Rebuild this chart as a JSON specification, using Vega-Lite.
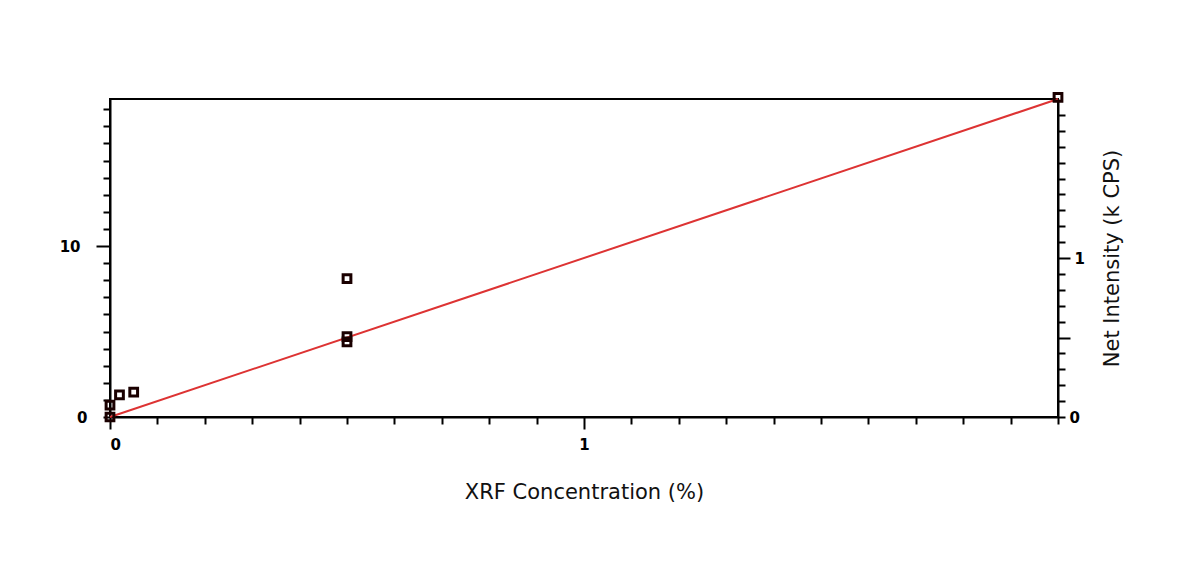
{
  "$schema": "https://vega.github.io/schema/vega-lite/v6.json",
  "width": 948,
  "height": 318,
  "autosize": {"type": "none"},
  "padding": {"left": 110, "top": 99, "right": 138, "bottom": 158},
  "background": "white",
  "config": {
    "view": {"stroke": "black", "strokeWidth": 2},
    "font": "DejaVu Sans",
    "axis": {
      "domainColor": "black",
      "domainWidth": 2,
      "tickColor": "black",
      "tickWidth": 2,
      "labelFont": "DejaVu Sans",
      "labelFontWeight": "bold",
      "labelFontSize": 15,
      "labelColor": "black",
      "titleFont": "DejaVu Sans",
      "titleFontWeight": "normal",
      "titleFontSize": 21,
      "titleColor": "#111111",
      "grid": false
    }
  },
  "datasets": {
    "points": [
      {"conc": 0.0, "intensity": 0.0},
      {"conc": 0.0, "intensity": 0.7},
      {"conc": 0.02, "intensity": 1.3},
      {"conc": 0.05, "intensity": 1.45},
      {"conc": 0.5, "intensity": 8.1},
      {"conc": 0.5, "intensity": 4.7},
      {"conc": 0.5, "intensity": 4.4},
      {"conc": 2.0, "intensity": 18.7}
    ],
    "fit": [
      {"conc": 0.0, "fit": 0.0},
      {"conc": 2.0, "fit": 18.6}
    ],
    "right": [
      {"conc": 0.0, "kcps": 0.0},
      {"conc": 2.0, "kcps": 2.0}
    ]
  },
  "layer": [
    {
      "data": {"name": "fit"},
      "mark": {"type": "line", "color": "#dd3333", "strokeWidth": 2, "clip": false},
      "encoding": {
        "x": {
          "field": "conc", "type": "quantitative",
          "scale": {"domain": [0, 2], "nice": false},
          "title": "XRF Concentration (%)",
          "axis": {
            "values": [0, 0.1, 0.2, 0.3, 0.4, 0.5, 0.6, 0.7, 0.8, 0.9, 1, 1.1, 1.2, 1.3, 1.4, 1.5, 1.6, 1.7, 1.8, 1.9, 2],
            "labelExpr": "datum.value == 0 ? '0' : datum.value == 1 ? '1' : ''",
            "labelFontSize": 15,
            "tickSize": {"condition": {"test": "datum.value == 0 || datum.value == 1", "value": 12}, "value": 7},
            "labelPadding": 8,
            "titlePadding": 29
          }
        },
        "y": {
          "field": "fit", "type": "quantitative",
          "scale": {"domain": [0, 18.6], "nice": false},
          "axis": null
        }
      }
    },
    {
      "data": {"name": "points"},
      "mark": {"type": "point", "shape": "square", "filled": false, "stroke": "#1a0000", "strokeWidth": 3, "size": 60, "opacity": 1, "clip": false},
      "encoding": {
        "x": {"field": "conc", "type": "quantitative", "scale": {"domain": [0, 2], "nice": false}},
        "y": {
          "field": "intensity", "type": "quantitative",
          "scale": {"domain": [0, 18.6], "nice": false},
          "title": null,
          "axis": {
            "orient": "left",
            "values": [0, 1, 2, 3, 4, 5, 6, 7, 8, 9, 10, 11, 12, 13, 14, 15, 16, 17, 18],
            "labelExpr": "datum.value == 0 ? '0' : datum.value == 10 ? '10' : ''",
            "labelFontSize": 15,
            "tickSize": {"condition": {"test": "datum.value == 10", "value": 14}, "value": 7},
            "labelPadding": 16
          }
        }
      }
    },
    {
      "data": {"name": "right"},
      "mark": {"type": "point", "opacity": 0},
      "encoding": {
        "x": {"field": "conc", "type": "quantitative", "scale": {"domain": [0, 2], "nice": false}},
        "y": {
          "field": "kcps", "type": "quantitative",
          "scale": {"domain": [0, 2], "nice": false},
          "title": "Net Intensity (k CPS)",
          "axis": {
            "orient": "right",
            "values": [0, 0.1, 0.2, 0.3, 0.4, 0.5, 0.6, 0.7, 0.8, 0.9, 1, 1.1, 1.2, 1.3, 1.4, 1.5, 1.6, 1.7, 1.8, 1.9],
            "labelExpr": "datum.value == 0 ? '0' : datum.value == 1 ? '1' : ''",
            "labelFontSize": 15,
            "tickSize": {"condition": {"test": "datum.value == 1 || datum.value == 0.5", "value": 12}, "value": 7},
            "labelPadding": 4,
            "titleAngle": 270,
            "titlePadding": 38
          }
        }
      }
    }
  ],
  "resolve": {"scale": {"y": "independent"}}
}
